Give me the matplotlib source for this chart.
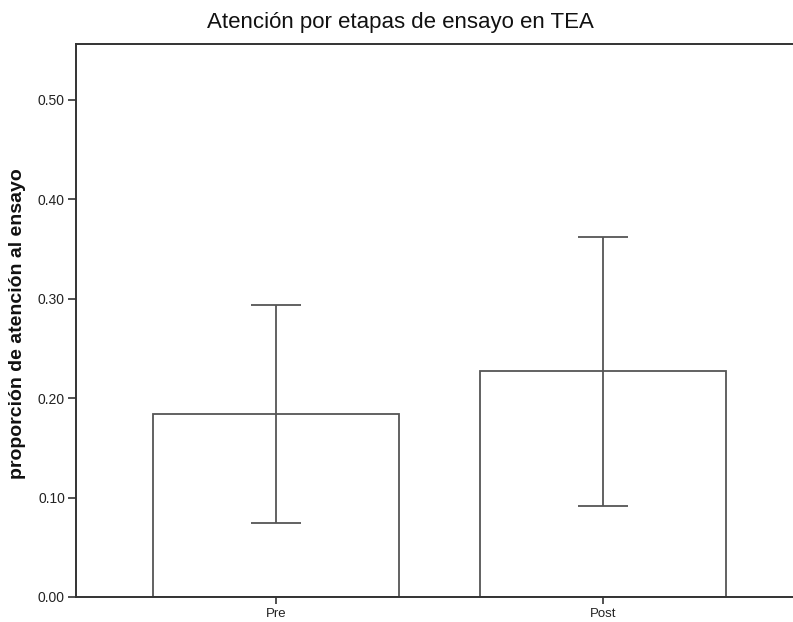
import matplotlib
matplotlib.use("Agg")
import matplotlib.pyplot as plt
import numpy as np

plt.rcParams['font.family'] = ['Liberation Sans', 'DejaVu Sans']

etapas = ['Pre', 'Post']
media = [0.184, 0.227]
ic_inf = [0.074, 0.092]
ic_sup = [0.294, 0.362]
yticks = [0.0, 0.1, 0.2, 0.3, 0.4, 0.5]

fig = plt.figure(figsize=(7.93, 6.22), dpi=100)
ax = fig.add_axes([76/793, 25/622, 1 - 76/793, 553/622])

x = np.arange(len(etapas))
media = np.array(media)
err = [media - np.array(ic_inf), np.array(ic_sup) - media]

ax.bar(x, media, width=0.75, color='white', edgecolor='#555555', linewidth=1.3)
ax.errorbar(x, media, yerr=err, fmt='none', ecolor='#555555', elinewidth=1.3,
            capsize=18, capthick=1.3)

ax.set_xlim(-0.612, 1.581)
ax.set_ylim(0, 0.5563)
ax.set_yticks(yticks)
ax.set_yticklabels(['%.2f' % t for t in yticks], fontsize=10, color='#222222')
ax.set_xticks(x)
ax.set_xticklabels(etapas, fontsize=9.5, color='#222222')
ax.tick_params(axis='y', direction='out', length=6, width=1.2, color='#333333', pad=2)
ax.tick_params(axis='x', direction='out', length=5, width=1.2, color='#333333', pad=3)

for s in ['left', 'top', 'bottom']:
    ax.spines[s].set_color('#333333')
    ax.spines[s].set_linewidth(1.4)
ax.spines['right'].set_visible(False)

# textos centrados a mano como en el original
fig.text(18/793, 1 - 324/622, 'proporción de atención al ensayo', fontsize=14,
         fontweight='bold', rotation=90, ha='center', va='center', color='#111111')
fig.text(400/793, 1 - 28/622, 'Atención por etapas de ensayo en TEA', fontsize=16,
         ha='center', va='baseline', color='#111111')

fig.savefig('out.png', dpi=100)
